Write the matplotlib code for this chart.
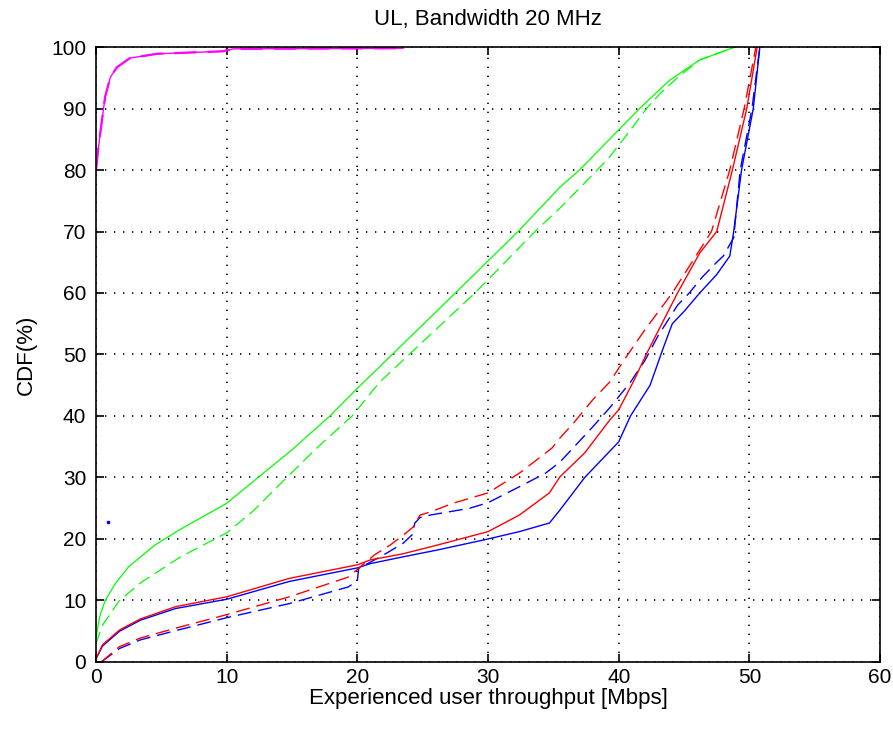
import matplotlib
matplotlib.use('Agg')
import matplotlib.pyplot as plt

plt.rcParams['font.family'] = ['Liberation Sans', 'DejaVu Sans']

# curves (throughput Mbps, CDF %)
mag_x = [0, 0.15, 0.45, 0.7, 1.1, 1.6, 2.6, 4.7, 9.7, 10.5, 23.5]
mag_y = [80, 83, 88, 91.9, 95.1, 96.7, 98.2, 98.9, 99.3, 99.7, 99.8]

grn_x = [0, 0.3, 0.7, 1.5, 2.5, 4.5, 6.4, 10, 12.4, 15, 17.9, 20, 21.7, 27.5, 32.3, 35.5, 37,
         41.6, 43.9, 46.2, 48.9]
grn_y = [4, 7.5, 10, 12.8, 15.5, 19, 21.5, 25.8, 30, 34.5, 40, 44.5, 48, 60, 70, 77.2, 80,
         90, 94.6, 97.9, 100]

grn_d_x = [0, 0.5, 1.8, 3.5, 6.4, 10, 12, 14.6, 17, 19.6, 21.7, 29, 33.6, 35.5, 37.4, 39.3, 40.9,
           42.2, 43.2, 44.5, 46.2, 48.9]
grn_d_y = [3, 6, 10, 13, 17, 21, 24.5, 30, 35, 40, 45.5, 60, 70, 73.8, 77.9, 82.1, 86.5,
           90.2, 92.5, 95, 97.9, 100]

red_x = [0, 0.5, 1.8, 3.4, 6.1, 10, 14.8, 20, 21, 23.5, 26.1, 30, 32.4, 34.7, 35.5, 37.4, 39.3, 40,
         41.2, 42.1, 44.5, 46.2, 47.5, 48.7, 49.8, 50.6]
red_y = [0.5, 2.8, 5.2, 7, 9, 10.6, 13.6, 15.8, 16.6, 17.6, 19, 21.2, 23.9, 27.5, 30.1, 34, 39.3, 41,
         45.9, 50, 60, 66.5, 70, 80, 90, 100]

blu_x = [0, 0.5, 1.8, 3.4, 6.1, 10, 14.8, 20, 21, 23.5, 26.1, 30, 32.4, 34.7, 35.5, 37.4, 40, 40.9,
         42.4, 43.4, 44.1, 45, 46.2, 47.5, 48.5, 48.8, 49.4, 50.3, 50.8]
blu_y = [0.5, 2.6, 5, 6.8, 8.7, 10.2, 13.1, 15.3, 16, 17.1, 18.2, 20, 21.2, 22.6, 24.7, 30, 35.8, 40,
         45, 51, 55, 57, 60, 63, 66, 70, 80, 90, 100]

red_d_x = [0.4, 1.8, 3.4, 6.1, 10, 14.8, 19.3, 21.3, 22.5, 23.5, 24.3, 24.8, 25.6, 27.3, 30, 32.4, 34.9,
           35.5, 36.6, 38, 39.3, 40.7, 42, 44.1, 47.1, 48.5, 49.6, 50.5]
red_d_y = [0, 2.5, 3.9, 5.5, 7.7, 10.6, 13.8, 17.4, 19, 20.6, 22, 23.9, 24.4, 25.8, 27.5, 30.7, 34.8,
           36.4, 39, 42.6, 45.5, 50, 54, 60, 70, 80, 90, 100]

blu_d_x = [0.4, 1.8, 3.4, 6.1, 10, 14.8, 19.3, 20, 20.1, 22, 23.5, 24.2, 24.4, 24.8, 25.6, 28.6, 30, 32.4,
           34.4, 35.5, 38, 39.3, 40.9, 42, 43, 44.5, 45.4, 46.4, 47.5, 48, 48.8, 49.3, 50.2, 50.8]
blu_d_y = [0, 2.2, 3.6, 5.1, 7.2, 9.5, 12.2, 13.2, 15.2, 17.4, 19.3, 20.7, 22.6, 23.5, 23.9, 25, 25.9, 28.5,
           30.7, 32.5, 38.2, 41.3, 45.5, 49, 53, 58, 60, 62.6, 65, 66, 69, 80, 90, 100]

stray_x = [0.9]
stray_y = [22.8]

fig = plt.figure(figsize=(8.93, 7.31), dpi=100, facecolor='white')
ax = fig.add_axes([0.1075, 0.0944, 0.878, 0.8413])

dash = (10, 5)
ax.plot(mag_x, mag_y, color='#ff00ff', lw=1.0)
ax.plot(mag_x, mag_y, color='#ff00ff', lw=1.6, dashes=dash)
ax.plot(grn_x, grn_y, color='#00ff00', lw=0.9)
ax.plot(grn_d_x, grn_d_y, color='#00ff00', lw=0.9, dashes=dash)
ax.plot(blu_x, blu_y, color='#0000ff', lw=1.0)
ax.plot(blu_d_x, blu_d_y, color='#0000ff', lw=1.0, dashes=dash)
ax.plot(red_x, red_y, color='#ff0000', lw=1.0)
ax.plot(red_d_x, red_d_y, color='#ff0000', lw=1.0, dashes=dash)
ax.plot(stray_x, stray_y, 's', color='#0000ff', ms=1.5)

ax.set_xlim(0, 60)
ax.set_ylim(0, 100)
ax.set_xticks(range(0, 61, 10))
ax.set_yticks(range(0, 101, 10))
ax.grid(True, color='black', linestyle=(0, (0.8, 4.6)), linewidth=1.2)
ax.tick_params(direction='in', top=True, right=True, length=6, width=1.2, labelsize=15)
ax.tick_params(axis='x', pad=4)
ax.tick_params(axis='y', pad=7)
for s in ax.spines.values():
    s.set_linewidth(1.2)

ax.set_title('UL, Bandwidth 20 MHz', fontsize=16, pad=16)
ax.set_xlabel('Experienced user throughput [Mbps]', fontsize=16, labelpad=1)
ax.set_ylabel('CDF(%)', fontsize=16, labelpad=10)

fig.savefig('out.png', dpi=100, facecolor='white')
